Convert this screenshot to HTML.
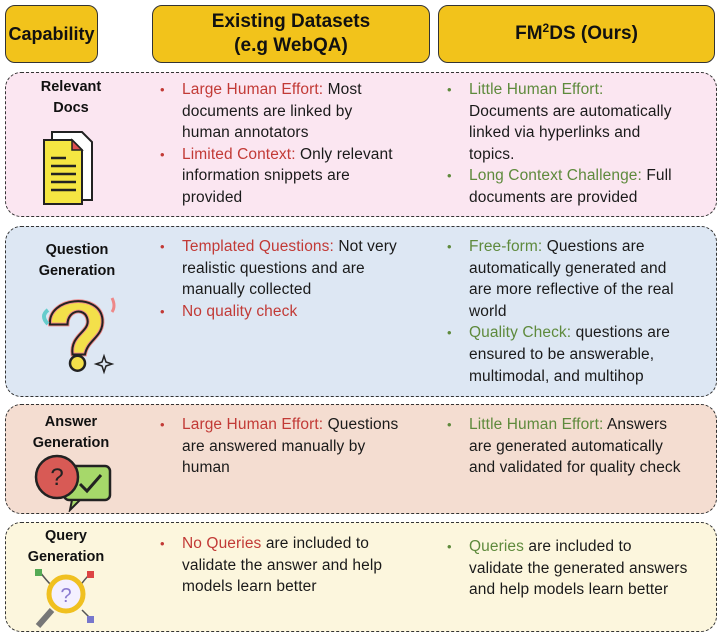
<!DOCTYPE html>
<html><head><meta charset="utf-8"><style>
*{margin:0;padding:0;box-sizing:border-box}
body{width:720px;height:637px;background:#fff;position:relative;font-family:"Liberation Sans",sans-serif;overflow:hidden}
.h{position:absolute;top:5px;height:58px;background:#f2c31b;border:1.5px solid #333;border-radius:10px;display:flex;align-items:center;justify-content:center;text-align:center;font-weight:bold;font-size:19px;line-height:24px;color:#111;white-space:nowrap}
.p{position:absolute;left:5px;width:712px;border:1.5px dashed #333;border-radius:16px}
.lab{position:absolute;font-weight:bold;font-size:14.5px;line-height:21px;text-align:center;color:#111}
.t{position:absolute;font-size:15.5px;line-height:21.6px;color:#1a1a1a;white-space:nowrap;letter-spacing:0.1px}
.t div{position:relative}
.r{color:#c23a36}.g{color:#5e8a3c}
.b{position:absolute;left:-22px;font-size:13px}
.rb{color:#c23a36}.gb{color:#5e8a3c}
svg{position:absolute}
</style></head><body>
<div class="h" style="left:5px;width:93px;font-size:18px">Capability</div>
<div class="h" style="left:152px;width:278px">Existing Datasets<br>(e.g WebQA)</div>
<div class="h" style="left:438px;width:277px"><span>FM<span style="font-size:12px;position:relative;top:-7px">2</span>DS (Ours)</span></div>

<div class="p" style="top:72px;height:145px;background:#fbe6f1"></div>
<div class="p" style="top:226px;height:171px;background:#dde7f3"></div>
<div class="p" style="top:404px;height:110px;background:#f4ddd1"></div>
<div class="p" style="top:522px;height:110px;background:#fcf6dd"></div>

<div class="lab" style="left:20px;width:102px;top:77px">Relevant<br>Docs</div>
<div class="lab" style="left:20px;width:114px;top:240px">Question<br>Generation</div>
<div class="lab" style="left:16px;width:110px;top:412px">Answer<br>Generation</div>
<div class="lab" style="left:10px;width:112px;top:526px">Query<br>Generation</div>

<!-- docs icon -->
<svg style="left:40px;top:128px" width="60" height="78" viewBox="0 0 60 78">
<path d="M12 4h30l10 10v58H12z" fill="#fff" stroke="#222" stroke-width="2"/>
<path d="M4 12h28l10 10v54H4z" fill="#f5e642" stroke="#222" stroke-width="2"/>
<path d="M32 12v10h10z" fill="#e05050" stroke="#222" stroke-width="1.5"/>
<g stroke="#222" stroke-width="2.5"><line x1="11" y1="30" x2="26" y2="30"/><line x1="11" y1="38" x2="36" y2="38"/><line x1="11" y1="46" x2="36" y2="46"/><line x1="11" y1="54" x2="36" y2="54"/><line x1="11" y1="62" x2="36" y2="62"/></g>
</svg>
<!-- question icon -->
<svg style="left:36px;top:292px" width="84" height="84" viewBox="0 0 84 84">
<g transform="translate(-6,0) scale(1.25)">
<path d="M16 22 C14 0 56 -4 58 18 C59 32 46 34 44 46 L34 46 C32 30 48 28 46 18 C44 8 30 10 30 22 Z" fill="#f3e04a" stroke="#e88" stroke-width="3" transform="translate(0,4)"/>
<path d="M16 22 C14 0 56 -4 58 18 C59 32 46 34 44 46 L34 46 C32 30 48 28 46 18 C44 8 30 10 30 22 Z" fill="none" stroke="#222" stroke-width="1.6" transform="translate(0,4)"/>
<circle cx="38" cy="57" r="6" fill="#f3e04a" stroke="#222" stroke-width="2"/>
</g>
<path d="M12 18 q-8 6 0 14" stroke="#6cc" stroke-width="4" fill="none"/>
<path d="M76 6 q4 8 0 14" stroke="#e88" stroke-width="3" fill="none"/>
<path d="M66 70 l2 -6 l2 6 l6 2 l-6 2 l-2 6 l-2 -6 l-6 -2z" fill="none" stroke="#222" stroke-width="1.5"/>
</svg>
<!-- answer icon -->
<svg style="left:32px;top:452px" width="82" height="60" viewBox="0 0 82 60">
<rect x="32" y="14" width="46" height="34" rx="5" fill="#a6d86a" stroke="#222" stroke-width="2.5"/>
<path d="M40 48 l-2 10 l10 -10z" fill="#a6d86a" stroke="#222" stroke-width="2"/>
<path d="M48 32 l7 7 l14 -16" stroke="#222" stroke-width="3" fill="none"/>
<circle cx="25" cy="25" r="21" fill="#d85a55" stroke="#222" stroke-width="2.5"/>
<text x="25" y="33" font-size="24" text-anchor="middle" font-family="Liberation Sans" fill="#222">?</text>
</svg>
<!-- query icon -->
<svg style="left:32px;top:568px" width="66" height="64" viewBox="0 0 66 64">
<g stroke="#555" stroke-width="1.5" fill="none"><path d="M8 4 q6 8 12 14"/><path d="M58 6 q-6 6 -10 12"/><path d="M58 50 q-4 -4 -8 -8"/></g>
<rect x="3" y="1" width="7" height="7" fill="#5a5"/><rect x="55" y="3" width="7" height="7" fill="#d44"/><rect x="55" y="48" width="7" height="7" fill="#77c"/>
<line x1="20" y1="42" x2="6" y2="58" stroke="#777" stroke-width="6"/>
<circle cx="34" cy="26" r="17" fill="#f4f0ff" stroke="#f0c020" stroke-width="5"/>
<text x="34" y="34" font-size="20" text-anchor="middle" font-family="Liberation Sans" fill="#8a7ad0">?</text>
</svg>

<div class="t" style="left:182px;top:79px">
<div><span class="b rb">•</span><span class="r">Large Human Effort:</span> Most<br>documents are linked by<br>human annotators</div>
<div><span class="b rb">•</span><span class="r">Limited Context:</span> Only relevant<br>information snippets are<br>provided</div>
</div>
<div class="t" style="left:469px;top:79px">
<div><span class="b gb">•</span><span class="g">Little Human Effort:</span><br>Documents are automatically<br>linked via hyperlinks and<br>topics.</div>
<div><span class="b gb">•</span><span class="g">Long Context Challenge:</span> Full<br>documents are provided</div>
</div>

<div class="t" style="left:182px;top:236px">
<div><span class="b rb">•</span><span class="r">Templated Questions:</span> Not very<br>realistic questions and are<br>manually collected</div>
<div><span class="b rb">•</span><span class="r">No quality check</span></div>
</div>
<div class="t" style="left:469px;top:236px">
<div><span class="b gb">•</span><span class="g">Free-form:</span> Questions are<br>automatically generated and<br>are more reflective of the real<br>world</div>
<div><span class="b gb">•</span><span class="g">Quality Check:</span> questions are<br>ensured to be answerable,<br>multimodal, and multihop</div>
</div>

<div class="t" style="left:182px;top:414px">
<div><span class="b rb">•</span><span class="r">Large Human Effort:</span> Questions<br>are answered manually by<br>human</div>
</div>
<div class="t" style="left:469px;top:414px">
<div><span class="b gb">•</span><span class="g">Little Human Effort:</span> Answers<br>are generated automatically<br>and validated for quality check</div>
</div>

<div class="t" style="left:182px;top:533px">
<div><span class="b rb">•</span><span class="r">No Queries</span> are included to<br>validate the answer and help<br>models learn better</div>
</div>
<div class="t" style="left:469px;top:536px">
<div><span class="b gb">•</span><span class="g">Queries</span> are included to<br>validate the generated answers<br>and help models learn better</div>
</div>
</body></html>
